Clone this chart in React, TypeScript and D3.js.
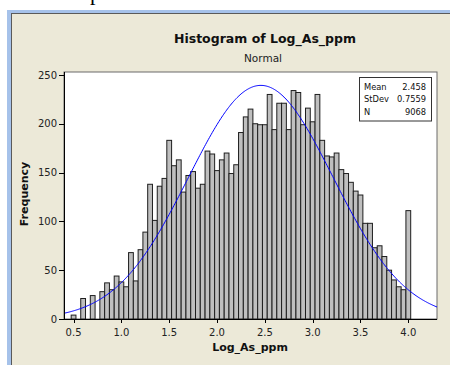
import { useRef, useEffect } from "react";
import * as d3 from "d3";

// histogram bins: centres start at 0.5, width 0.05
const firstBin = 0.5;
const binWidth = 0.05;
const counts = [
  4, 0, 21, 0, 24, 0, 28, 37, 30, 44,
  38, 33, 68, 39, 71, 89, 138, 101, 136, 144,
  183, 157, 163, 130, 147, 151, 134, 138, 172, 169,
  152, 163, 170, 149, 158, 191, 207, 215, 200, 199,
  199, 230, 194, 221, 221, 194, 234, 232, 199, 216,
  202, 230, 183, 167, 166, 170, 153, 149, 140, 131,
  127, 98, 98, 73, 75, 64, 50, 40, 33, 30,
  111,
];

const xTicks = [0.5, 1.0, 1.5, 2.0, 2.5, 3.0, 3.5, 4.0];
const yTicks = [0, 50, 100, 150, 200, 250];

const statLabels = ["Mean", "StDev", "N"];
const statValues = ["2.458", "0.7559", "9068"];
const mean = 2.458;
const stdev = 0.7559;
const total = 9068;

const W = 450;
const H = 365;
const FONT = '"DejaVu Sans", Verdana, sans-serif';

export default function App() {
  const svgRef = useRef<SVGSVGElement>(null);

  useEffect(() => {
    if (!svgRef.current) return;
    const svg = d3.select(svgRef.current);
    svg.selectAll("*").remove();

    // window chrome
    svg.append("rect").attr("width", W).attr("height", H).attr("fill", "#fff");
    svg.append("rect").attr("x", 12).attr("y", 14).attr("width", W - 12).attr("height", H - 14).attr("fill", "#ece9d8");
    svg.append("rect").attr("x", 7).attr("y", 10).attr("width", 4).attr("height", H - 10).attr("fill", "#a6c2ea");
    svg.append("rect").attr("x", 7).attr("y", 10).attr("width", W - 7).attr("height", 3).attr("fill", "#a6c2ea");
    svg.append("rect").attr("x", 11).attr("y", 13).attr("width", 1).attr("height", H - 13).attr("fill", "#5a5a5a");
    svg.append("rect").attr("x", 11).attr("y", 13).attr("width", W - 11).attr("height", 1).attr("fill", "#5a5a5a");
    svg.append("text")
      .attr("x", 90).attr("y", -0.5)
      .style("font-family", '"Liberation Serif", serif')
      .style("font-size", "22px")
      .text("p");

    const left = 64, right = 437, top = 72, bottom = 319;
    const x = d3.scaleLinear().domain([0.4, 4.3]).range([left, right]);
    const y = d3.scaleLinear().domain([0, 253]).range([bottom, top]);

    svg.append("rect")
      .attr("x", left).attr("y", top)
      .attr("width", right - left).attr("height", bottom - top)
      .attr("fill", "#fff").attr("stroke", "#6a6a6a");

    const bins = counts.map((c, i) => ({ x0: firstBin + i * binWidth - binWidth / 2, count: c }));

    svg.append("g")
      .selectAll("rect")
      .data(bins.filter((d) => d.count > 0))
      .join("rect")
      .attr("x", (d) => x(d.x0))
      .attr("width", (d) => x(d.x0 + binWidth) - x(d.x0))
      .attr("y", (d) => y(d.count))
      .attr("height", (d) => y(0) - y(d.count))
      .attr("fill", "#bfbfbf")
      .attr("stroke", "#1e1e1e")
      .attr("stroke-width", 1);

    // fitted normal curve
    const pdf = (v: number) =>
      (total * binWidth) / (stdev * Math.sqrt(2 * Math.PI)) * Math.exp(-0.5 * ((v - mean) / stdev) ** 2);
    const pts = d3.range(0.4, 4.3001, 0.01).map((v) => [v, pdf(v)] as [number, number]);
    svg.append("path")
      .datum(pts)
      .attr("d", d3.line<[number, number]>().x((d) => x(d[0])).y((d) => y(d[1])))
      .attr("fill", "none")
      .attr("stroke", "#0000ff")
      .attr("stroke-width", 1);

    // axes
    svg.append("line").attr("x1", left + 0.5).attr("x2", left + 0.5).attr("y1", top).attr("y2", bottom).attr("stroke", "#000");
    svg.append("line").attr("x1", left).attr("x2", right).attr("y1", bottom + 0.5).attr("y2", bottom + 0.5).attr("stroke", "#000");

    const yAxis = svg.append("g");
    yAxis.selectAll("line")
      .data(yTicks)
      .join("line")
      .attr("x1", left - 5).attr("x2", left)
      .attr("y1", (d) => Math.round(y(d)) + 0.5).attr("y2", (d) => Math.round(y(d)) + 0.5)
      .attr("stroke", "#000");
    yAxis.selectAll("text")
      .data(yTicks)
      .join("text")
      .attr("x", left - 7)
      .attr("y", (d) => y(d))
      .attr("dy", "0.36em")
      .attr("text-anchor", "end")
      .style("font-family", FONT)
      .style("font-size", "10px")
      .style("fill", "#222")
      .text((d) => d);

    const xAxis = svg.append("g");
    xAxis.selectAll("line")
      .data(xTicks)
      .join("line")
      .attr("x1", (d) => Math.round(x(d)) + 0.5).attr("x2", (d) => Math.round(x(d)) + 0.5)
      .attr("y1", bottom).attr("y2", bottom + 4)
      .attr("stroke", "#000");
    xAxis.selectAll("text")
      .data(xTicks)
      .join("text")
      .attr("x", (d) => x(d))
      .attr("y", 336)
      .attr("text-anchor", "middle")
      .style("font-family", FONT)
      .style("font-size", "10px")
      .style("fill", "#222")
      .text((d) => d.toFixed(1));

    // titles
    svg.append("text")
      .attr("x", 265).attr("y", 43)
      .attr("text-anchor", "middle")
      .style("font-family", FONT).style("font-size", "12.5px").style("font-weight", "700")
      .style("fill", "#111")
      .text("Histogram of Log_As_ppm");
    svg.append("text")
      .attr("x", 263).attr("y", 62)
      .attr("text-anchor", "middle")
      .style("font-family", FONT).style("font-size", "10.5px")
      .style("fill", "#222")
      .text("Normal");
    svg.append("text")
      .attr("x", 250).attr("y", 351)
      .attr("text-anchor", "middle")
      .style("font-family", FONT).style("font-size", "11px").style("font-weight", "700")
      .style("fill", "#111")
      .text("Log_As_ppm");
    svg.append("text")
      .attr("transform", "translate(28,194) rotate(-90)")
      .attr("text-anchor", "middle")
      .style("font-family", FONT).style("font-size", "11px").style("font-weight", "700")
      .style("fill", "#111")
      .text("Frequency");

    // stats box
    const box = svg.append("g");
    box.append("rect")
      .attr("x", 359.5).attr("y", 77.5).attr("width", 72).attr("height", 43.5)
      .attr("fill", "#fff").attr("stroke", "#333");
    box.selectAll(".lbl")
      .data(statLabels)
      .join("text")
      .attr("class", "lbl")
      .attr("x", 364)
      .attr("y", (_, i) => 89.5 + i * 12.8)
      .style("font-family", FONT).style("font-size", "8.3px").style("fill", "#111")
      .text((d) => d);
    box.selectAll(".val")
      .data(statValues)
      .join("text")
      .attr("class", "val")
      .attr("x", 426)
      .attr("y", (_, i) => 89.5 + i * 12.8)
      .attr("text-anchor", "end")
      .style("font-family", FONT).style("font-size", "8.3px").style("fill", "#111")
      .text((d) => d);
  }, []);

  return (
    <svg
      ref={svgRef}
      width={W}
      height={H}
      style={{ position: "absolute", left: 0, top: 0, display: "block" }}
    />
  );
}
